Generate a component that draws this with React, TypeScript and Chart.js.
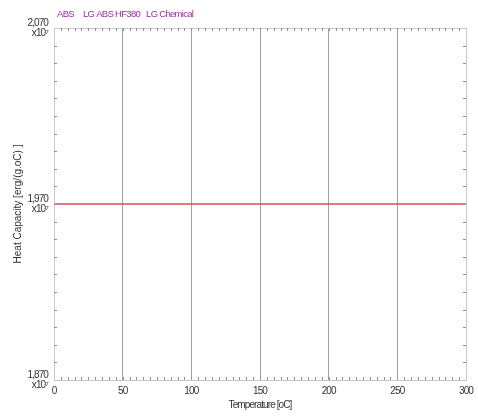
import React, { useEffect, useRef } from "react";
import { Chart, registerables } from "chart.js";

Chart.register(...registerables);

const temperatures = [0, 50, 100, 150, 200, 250, 300];
const heatCapacity = [1.97e7, 1.97e7, 1.97e7, 1.97e7, 1.97e7, 1.97e7, 1.97e7];
const xTickValues = [0, 50, 100, 150, 200, 250, 300];
const yTickValues = [1.87e7, 1.97e7, 2.07e7];
const headerTexts = ["ABS", "LG ABS HF380", "LG Chemical"];
const headerX = [57, 83, 143];
const xTitle = "Temperature [oC]";
const yTitle = "Heat Capacity [erg/(g.oC) ]";

const FONT = "'Liberation Sans', Arial, sans-serif";
const NARROW = "-0.9px";

const fmtY = (v: number) => (v / 1e7).toFixed(3).replace(".", ",");

const spacingPlugin = {
  id: "spacing",
  beforeUpdate(chart: any) {
    chart.ctx.letterSpacing = NARROW;
  },
  beforeDraw(chart: any) {
    chart.ctx.letterSpacing = NARROW;
  },
};

const framePlugin = {
  id: "frame",
  afterDraw(chart: any) {
    const { ctx, chartArea } = chart;
    const { left, right, top, bottom } = chartArea;
    const xs = chart.scales.x;
    const ys = chart.scales.y;
    ctx.save();
    ctx.strokeStyle = "#c8c8c8";
    ctx.lineWidth = 1;
    ctx.strokeRect(Math.round(left) + 0.5, Math.round(top) + 0.5, Math.round(right - left), Math.round(bottom - top));
    ctx.strokeStyle = "#909090";
    ctx.beginPath();
    for (let v = 5; v < 300; v += 5) {
      const px = Math.round(xs.getPixelForValue(v)) + 0.5;
      ctx.moveTo(px, bottom);
      ctx.lineTo(px, bottom - 3);
      ctx.moveTo(px, top);
      ctx.lineTo(px, top + 3);
    }
    for (let i = 1; i < 20; i++) {
      const v = 1.87e7 + i * 1e5;
      const py = Math.round(ys.getPixelForValue(v)) + 0.5;
      ctx.moveTo(left, py);
      ctx.lineTo(left + 3, py);
      ctx.moveTo(right, py);
      ctx.lineTo(right - 3, py);
    }
    ctx.stroke();
    ctx.fillStyle = "#9b30a0";
    ctx.font = `9.5px ${FONT}`;
    ctx.letterSpacing = "-0.7px";
    ctx.textBaseline = "middle";
    let prevEnd = 0;
    headerTexts.forEach((t, i) => {
      const x = Math.max(headerX[i], prevEnd + 6);
      ctx.fillText(t, x, 14);
      prevEnd = x + ctx.measureText(t).width;
    });
    ctx.restore();
  },
};

export default function App() {
  const ref = useRef<HTMLCanvasElement>(null);
  useEffect(() => {
    if (!ref.current) return;
    const chart = new Chart(ref.current, {
      type: "line",
      data: {
        datasets: [
          {
            data: temperatures.map((t, i) => ({ x: t, y: heatCapacity[i] })),
            borderColor: "#e04848",
            borderWidth: 1.5,
            pointRadius: 0,
            fill: false,
          },
        ],
      },
      options: {
        responsive: false,
        animation: false,
        layout: { padding: { top: 28, right: 9, left: 0, bottom: 0 } },
        plugins: { legend: { display: false }, tooltip: { enabled: false }, title: { display: false } },
        scales: {
          x: {
            type: "linear",
            min: 0,
            max: 300,
            afterBuildTicks: (s: any) => {
              s.ticks = xTickValues.map((v) => ({ value: v }));
            },
            afterFit: (s: any) => {
              s.height = 38;
            },
            ticks: { color: "#333", font: { family: FONT, size: 10 }, padding: 5, maxRotation: 0 },
            grid: {
              drawTicks: false,
              color: (c: any) => (c.tick && (c.tick.value === 0 || c.tick.value === 300) ? "rgba(0,0,0,0)" : "#a0a0a0"),
            },
            border: { display: false },
            title: { display: true, text: xTitle, color: "#333", font: { family: FONT, size: 10 }, padding: { top: 0, bottom: 7 } },
          },
          y: {
            type: "linear",
            min: 1.87e7,
            max: 2.07e7,
            afterBuildTicks: (s: any) => {
              s.ticks = yTickValues.map((v) => ({ value: v }));
            },
            afterFit: (s: any) => {
              s.width = 54;
              if (!s.__patched) {
                const orig = s.drawTitle;
                s.drawTitle = function () {
                  const ctx = this.ctx;
                  const prev = ctx.letterSpacing;
                  ctx.letterSpacing = "0px";
                  orig.call(this);
                  ctx.letterSpacing = prev;
                };
                s.__patched = true;
              }
            },
            ticks: {
              color: "#333",
              font: { family: FONT, size: 10, lineHeight: 0.95 },
              padding: 6,
              callback: (v: any) => [fmtY(Number(v)), "x10\u2077"],
            },
            grid: { display: false, drawTicks: false },
            border: { display: false },
            title: { display: true, text: yTitle, color: "#333", font: { family: FONT, size: 10 }, padding: { top: 12, bottom: 0 } },
          },
        },
      },
      plugins: [spacingPlugin, framePlugin],
    } as any);
    return () => chart.destroy();
  }, []);
  return (
    <div style={{ position: "absolute", left: 0, top: 0, width: 478, height: 418, background: "#fff" }}>
      <canvas ref={ref} width={478} height={418} style={{ width: 478, height: 418 }} />
    </div>
  );
}
